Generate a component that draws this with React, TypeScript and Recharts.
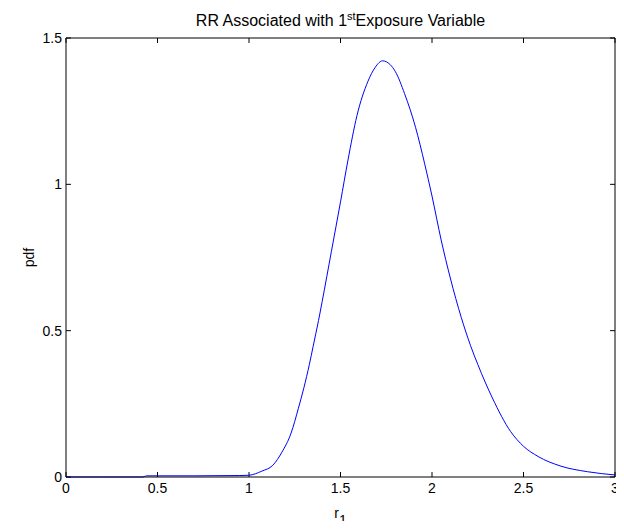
import React from "react";
import { LineChart, Line, XAxis, YAxis, ReferenceLine } from "recharts";

// r values (x) and estimated pdf values
const rValues = [
  0, 0.2, 0.42, 0.44, 0.7, 0.95, 1.0, 1.07, 1.13, 1.18, 1.23, 1.27, 1.3, 1.33,
  1.35, 1.38, 1.4, 1.45, 1.5, 1.54, 1.59, 1.65, 1.69, 1.73, 1.77, 1.8, 1.85,
  1.91, 1.96, 2.0, 2.05, 2.1, 2.16, 2.21, 2.25, 2.33, 2.43, 2.5, 2.58, 2.7,
  2.85, 3.0,
];
const pdfValues = [
  0, 0, 0, 0.004, 0.004, 0.005, 0.006, 0.02, 0.04, 0.085, 0.15, 0.235, 0.305,
  0.385, 0.445, 0.535, 0.6, 0.77, 0.94, 1.08, 1.235, 1.352, 1.4, 1.422, 1.41,
  1.385, 1.31, 1.195, 1.07, 0.96, 0.81, 0.68, 0.545, 0.45, 0.385, 0.27, 0.155,
  0.105, 0.07, 0.038, 0.018, 0.007,
];
const xTicks = [0, 0.5, 1, 1.5, 2, 2.5, 3];
const yTicks = [0, 0.5, 1, 1.5];

const data = rValues.map((r, i) => ({ r, pdf: pdfValues[i] }));

const X_MIN = 0;
const X_MAX = 3;
const Y_MIN = 0;
const Y_MAX = 1.5;
// inward tick length (~5px) expressed in axis units
const X_TICK = 0.027;
const Y_TICK = 0.017;

const FONT = "'Liberation Sans', Arial, Helvetica, sans-serif";

const BottomTick = ({ x, y, payload }: any) => (
  <text x={x} y={y} dy="0.71em" textAnchor="middle" fontSize={14} fontFamily={FONT} fill="#000">
    {payload.value}
  </text>
);

const LeftTick = ({ x, y, payload }: any) => (
  <text x={x + 2} y={y} dy="0.355em" textAnchor="end" fontSize={14} fontFamily={FONT} fill="#000">
    {payload.value}
  </text>
);

const App: React.FC = () => {
  return (
    // cancel the body margin so the chart uses the whole 624x529 page
    <div style={{ position: "relative", width: 624, height: 529, margin: -8, overflow: "hidden", fontFamily: FONT }}>
      <div
        style={{
          position: "absolute",
          left: 66,
          top: 11,
          width: 549,
          height: 20,
          lineHeight: "20px",
          fontSize: 16,
          textAlign: "center",
          color: "#000",
        }}
      >
        RR Associated with 1
        <sup style={{ fontSize: 11, lineHeight: 0 }}>st</sup>
        Exposure Variable
      </div>
      <LineChart
        width={624}
        height={529}
        data={data}
        margin={{ top: 32, right: 3, bottom: 0, left: 0 }}
      >
        <XAxis
          xAxisId="bottom"
          dataKey="r"
          type="number"
          domain={[X_MIN, X_MAX]}
          ticks={xTicks}
          height={52}
          stroke="#000"
          tickLine={false}
          tickSize={6}
          tickMargin={0}
          tick={<BottomTick />}
          label={{
            content: ({ viewBox }: any) => (
              <text
                x={viewBox.x + viewBox.width / 2}
                y={viewBox.y + 41}
                textAnchor="middle"
                fontSize={14}
                fontFamily={FONT}
                fill="#000"
              >
                r
                <tspan dy={7} fontSize={14}>1</tspan>
              </text>
            ),
          }}
        />
        <XAxis
          xAxisId="top"
          orientation="top"
          dataKey="r"
          type="number"
          domain={[X_MIN, X_MAX]}
          ticks={xTicks}
          height={6}
          stroke="#000"
          tickLine={false}
          tick={false}
        />
        <YAxis
          yAxisId="left"
          type="number"
          domain={[Y_MIN, Y_MAX]}
          ticks={yTicks}
          width={66}
          stroke="#000"
          tickLine={false}
          tickSize={6}
          tickMargin={0}
          tick={<LeftTick />}
          label={{
            content: ({ viewBox }: any) => {
              const cx = viewBox.x + 34;
              const cy = viewBox.y + viewBox.height / 2;
              return (
                <text
                  x={cx}
                  y={cy}
                  textAnchor="middle"
                  fontSize={14}
                  fontFamily={FONT}
                  fill="#000"
                  transform={`rotate(-90, ${cx}, ${cy})`}
                >
                  pdf
                </text>
              );
            },
          }}
        />
        <YAxis
          yAxisId="right"
          orientation="right"
          type="number"
          domain={[Y_MIN, Y_MAX]}
          ticks={yTicks}
          width={6}
          stroke="#000"
          tickLine={false}
          tick={false}
        />
        {/* MATLAB-style inward tick marks on all four sides */}
        {xTicks.map((t) => (
          <ReferenceLine
            key={`b${t}`}
            xAxisId="bottom"
            yAxisId="left"
            segment={[{ x: t, y: Y_MIN }, { x: t, y: Y_MIN + Y_TICK }]}
            stroke="#000"
          />
        ))}
        {xTicks.map((t) => (
          <ReferenceLine
            key={`t${t}`}
            xAxisId="bottom"
            yAxisId="left"
            segment={[{ x: t, y: Y_MAX }, { x: t, y: Y_MAX - Y_TICK }]}
            stroke="#000"
          />
        ))}
        {yTicks.map((v) => (
          <ReferenceLine
            key={`l${v}`}
            xAxisId="bottom"
            yAxisId="left"
            segment={[{ x: X_MIN, y: v }, { x: X_MIN + X_TICK, y: v }]}
            stroke="#000"
          />
        ))}
        {yTicks.map((v) => (
          <ReferenceLine
            key={`r${v}`}
            xAxisId="bottom"
            yAxisId="left"
            segment={[{ x: X_MAX, y: v }, { x: X_MAX - X_TICK, y: v }]}
            stroke="#000"
          />
        ))}
        <Line
          xAxisId="bottom"
          yAxisId="left"
          type="monotone"
          dataKey="pdf"
          stroke="#0000ff"
          strokeWidth={1}
          dot={false}
          isAnimationActive={false}
        />
      </LineChart>
    </div>
  );
};

export default App;
